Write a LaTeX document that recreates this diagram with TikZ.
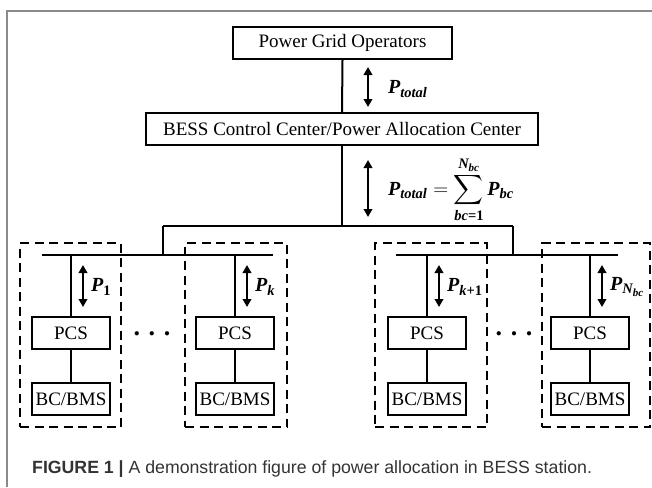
\documentclass[tikz,border=0pt]{standalone}
\usepackage{amsmath}
\usepackage{fontspec}
\setmainfont{Liberation Serif}
\newfontfamily\capfont{Liberation Sans}
\usetikzlibrary{arrows.meta}
\DeclareMathSizes{20}{20}{14.5}{11}
\definecolor{framec}{HTML}{8A8A8A}
\definecolor{capc}{HTML}{333333}
\newcommand{\bi}[1]{\text{\bfseries\itshape #1}}
\newcommand{\bu}[1]{\text{\bfseries #1}}
\tikzset{
  box/.style={draw, line width=2pt, inner sep=0pt, minimum height=32pt, font=\fontsize{19}{22}\selectfont},
  dbox/.style={draw, line width=2pt, dash pattern=on 9pt off 5.5pt, inner sep=0pt},
  conn/.style={line width=2pt},
  pwr/.style={line width=2.5pt, {Triangle[width=8.5pt,length=8pt]}-{Triangle[width=8.5pt,length=8pt]}},
  plabel/.style={anchor=west, inner sep=0pt, font=\fontsize{20}{23}\selectfont}
}
\begin{document}
\begin{tikzpicture}[x=1pt,y=-1pt]
\useasboundingbox (0,0) rectangle (652,487);
% frame
\draw[framec, line width=1.5pt] (652,11) -- (7,11) -- (7,487);
% top boxes
\node[box, minimum width=219pt] (pgo) at (342.5,43) {Power Grid Operators};
\node[box, minimum width=392pt] (bess) at (342,129) {BESS Control Center/Power Allocation Center};
\draw[conn] (pgo.south) -- (bess.north);
\coordinate (a1s) at (368,67); \coordinate (a1e) at (368,107);
\draw[pwr] (a1s) -- (a1e);
\node[plabel] (lt) at (388,89) {$\bi{P}_{\bi{total}}$};
\coordinate (a2s) at (368,160); \coordinate (a2e) at (368,217);
\draw[pwr] (a2s) -- (a2e);
\node[plabel] (ls) at (388,190) {$\bi{P}_{\bi{total}} = \displaystyle\sum_{\bi{bc}\bu{=1}}^{\bi{N}_{\bi{bc}}} \bi{P}_{\bi{bc}}$};
% distribution lines
\coordinate (j0) at (342,226);
\coordinate (jl) at (163,226);
\coordinate (jr) at (513,226);
\coordinate (bl) at (163,255);
\coordinate (br) at (513,255);
\coordinate (bus1a) at (42,255); \coordinate (bus1b) at (273,255);
\coordinate (bus2a) at (396,255); \coordinate (bus2b) at (618,255);
\draw[conn] (bess.south) -- (j0);
\draw[conn] (jl) -- (jr);
\draw[conn] (jl) -- (bl);
\draw[conn] (jr) -- (br);
\draw[conn] (bus1a) -- (bus1b);
\draw[conn] (bus2a) -- (bus2b);
% dashed groups
\node[dbox, minimum width=101pt, minimum height=184pt] (d1) at (70.5,335) {};
\node[dbox, minimum width=102pt, minimum height=184pt] (d2) at (236,335) {};
\node[dbox, minimum width=112pt, minimum height=184pt] (d3) at (431,335) {};
\node[dbox, minimum width=108pt, minimum height=184pt] (d4) at (596,335) {};
% branches
\foreach \i/\x/\lab in {1/71/{\bi{P}_{\bu{1}}}, 2/235/{\bi{P}_{\bi{k}}}, 3/427/{\bi{P}_{\bi{k}\bu{+1}}}, 4/590/{\bi{P}_{\bi{N}_{\bi{bc}}}}} {
  \node[box, minimum width=78pt] (pcs\i) at (\x,333) {PCS};
  \node[box, minimum width=78pt] (bms\i) at (\x,399) {BC/BMS};
  \coordinate (t\i) at (\x,255);
  \draw[conn] (t\i) -- (pcs\i.north);
  \draw[conn] (pcs\i.south) -- (bms\i.north);
  \coordinate (as\i) at (\x+12,265);
  \coordinate (ae\i) at (\x+12,307);
  \draw[pwr] (as\i) -- (ae\i);
  \node[plabel] (pl\i) at (\x+20,287) {$\lab$};
}
% dots
\node[font=\fontsize{26}{28}\selectfont\bfseries] (dots1) at (152,334) {. . .};
\node[font=\fontsize{26}{28}\selectfont\bfseries] (dots2) at (514,334) {. . .};
% caption
\node[anchor=base west, inner sep=0pt, text=capc, font=\capfont\fontsize{17.7}{20}\selectfont] (cap) at (32,473.5) {\textbf{FIGURE 1 |} A demonstration figure of power allocation in BESS station.};
\end{tikzpicture}
\end{document}
